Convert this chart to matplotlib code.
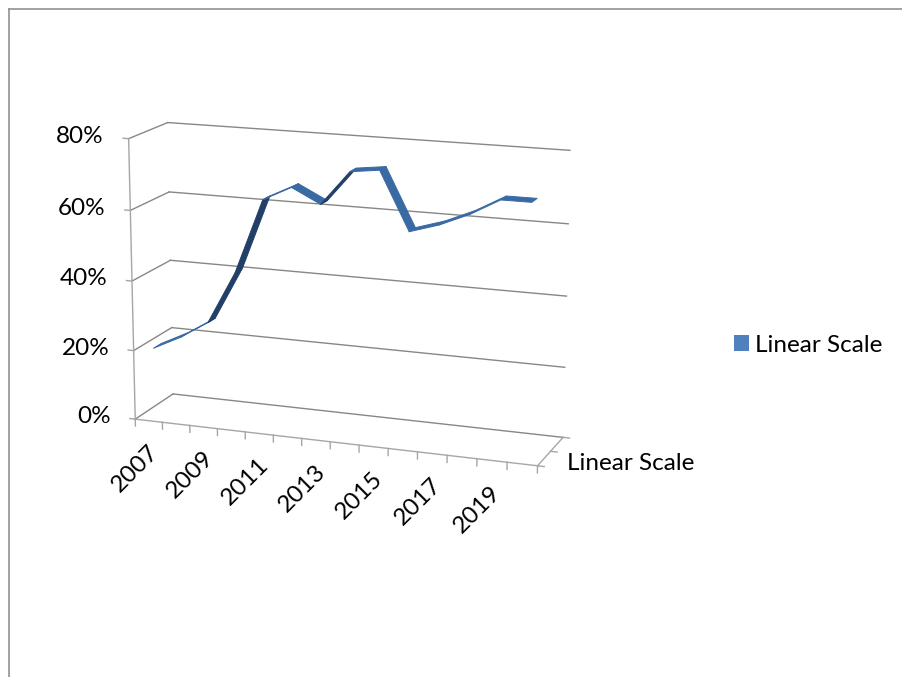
import numpy as np
import matplotlib.pyplot as plt
from matplotlib.patches import Patch
from matplotlib.lines import Line2D
from mpl_toolkits.mplot3d import proj3d
from mpl_toolkits.mplot3d.art3d import Poly3DCollection

# data
years = [2007, 2008, 2009, 2010, 2011, 2012, 2013,
         2014, 2015, 2016, 2017, 2018, 2019, 2020]
share = [0.20, 0.24, 0.29, 0.44, 0.65, 0.69, 0.65,
         0.745, 0.755, 0.595, 0.62, 0.655, 0.70, 0.70]
y_ticks = [0.0, 0.2, 0.4, 0.6, 0.8]
y_labels = ['0%', '20%', '40%', '60%', '80%']
series_name = 'Linear Scale'

plt.rcParams['font.family'] = ['Lato', 'DejaVu Sans']
plt.rcParams['font.size'] = 17.5

grid_col = '#878787'
axis_col = '#a6a6a6'
top_col = '#3a6aa3'
under_col = '#223f68'

fig = plt.figure(figsize=(9.03, 6.77), dpi=100)
ax = fig.add_axes([0.0926, 0.1855, 0.567, 0.7563], projection='3d',
                  computed_zorder=False)
ax.set_proj_type('persp', focal_length=0.85)
elev, azim = 14.5, -69.75
ax.view_init(elev=elev, azim=azim)
n = len(years)
ax.set_xlim(0, n)
ax.set_ylim(0, 1)
ax.set_zlim(0, 0.8)
box = (424, 93, 290)
ax.set_box_aspect(box)
ax.set_axis_off()

# back wall and side wall gridlines
for z in y_ticks:
    ax.plot([0, n], [1, 1], [z, z], color=grid_col, lw=1.0, zorder=1)
    ax.plot([0, 0], [0, 1], [z, z], color=grid_col, lw=1.0, zorder=1)

# axis lines: value axis, category axis, series (depth) axis
ax.plot([0, 0], [0, 0], [0, 0.8], color=axis_col, lw=1.0, zorder=2)
ax.plot([0, n], [0, 0], [0, 0], color=axis_col, lw=1.0, zorder=2)
ax.plot([n, n], [0, 1], [0, 0], color=axis_col, lw=1.0, zorder=2)
for z, lab in zip(y_ticks, y_labels):
    ax.plot([-0.2, 0], [0, 0], [z, z], color=axis_col, lw=1.0, zorder=2)
    ax.text(-0.9, 0, z, lab, ha='right', va='center')
for i in range(n + 1):
    ax.plot([i, i], [0, 0], [0, -0.02], color=axis_col, lw=1.0, zorder=2)
for d in [0, 0.5, 1]:
    ax.plot([n, n + 0.22], [d, d], [0, 0], color=axis_col, lw=1.0, zorder=2)

# rotated year labels: project the 3-D anchor, then place 2-D text
M = ax.get_proj()
for i in range(0, n, 2):
    px, py, _ = proj3d.proj_transform(i + 0.45, 0, -0.06, M)
    ax.text2D(px, py, str(years[i]), transform=ax.transData, rotation=45,
              ha='right', va='top', rotation_mode='anchor')
ax.text(n + 0.55, 0.5, -0.03, series_name, ha='left', va='center')

# the 3-D ribbon
x = np.arange(n) + 0.5
d0, d1 = 0.16, 0.36
sx = box[0] / n
sz = box[2] / 0.8
cam = (np.cos(np.radians(elev)) * np.cos(np.radians(azim)),
       np.sin(np.radians(elev)))
polys, cols = [], []
for i in range(n - 1):
    polys.append([(x[i], d0, share[i]), (x[i + 1], d0, share[i + 1]),
                  (x[i + 1], d1, share[i + 1]), (x[i], d1, share[i])])
    dz = (share[i + 1] - share[i]) * sz
    facing = -dz * cam[0] + sx * cam[1]
    cols.append(top_col if facing > 0 else under_col)
ribbon = Poly3DCollection(polys, facecolors=cols, edgecolors=cols,
                          linewidths=0.7, zorder=3)
ax.add_collection3d(ribbon)

# legend
fig.legend(handles=[Patch(facecolor='#4f81bd', edgecolor='none', label=series_name)],
           loc='center left', bbox_to_anchor=(734 / 903, 1 - 345 / 677),
           frameon=False, handlelength=0.62, handleheight=0.62,
           handletextpad=0.25, borderpad=0, borderaxespad=0)

# chart area border (top and left edges show)
fig.add_artist(Line2D([9.5 / 903, 1], [1 - 8.5 / 677] * 2,
                      transform=fig.transFigure, color='#888888', lw=1.1))
fig.add_artist(Line2D([9.5 / 903] * 2, [0, 1 - 8.5 / 677],
                      transform=fig.transFigure, color='#888888', lw=1.1))

fig.savefig('out.png', dpi=100)
